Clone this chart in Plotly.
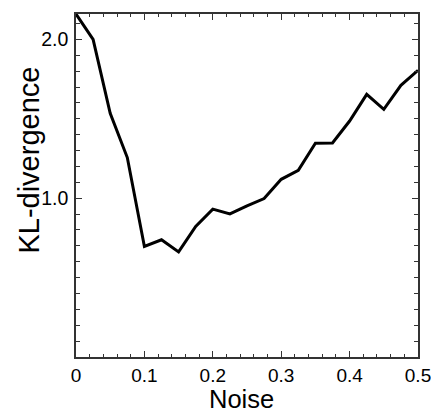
import plotly.graph_objects as go

noise = [0, 0.025, 0.05, 0.075, 0.1, 0.125, 0.15, 0.175, 0.2, 0.225, 0.25,
         0.275, 0.3, 0.325, 0.35, 0.375, 0.4, 0.425, 0.45, 0.475, 0.5]
kl = [2.16, 2.0, 1.535, 1.256, 0.696, 0.738, 0.662, 0.822, 0.931, 0.901, 0.952,
      0.998, 1.119, 1.176, 1.346, 1.348, 1.486, 1.654, 1.56, 1.711, 1.805]

x_ticks = [0, 0.1, 0.2, 0.3, 0.4, 0.5]
x_ticktext = ["0", "0.1", "0.2", "0.3", "0.4", "0.5"]
y_ticks = [1.0, 2.0]
y_ticktext = ["1.0", "2.0"]
x_title = "Noise"
y_title = "KL-divergence"

FONT = "Liberation Sans, Arial, sans-serif"
AX = "#333333"

fig = go.Figure()
fig.add_trace(go.Scatter(x=noise, y=kl, mode="lines",
                         line=dict(color="black", width=3), showlegend=False))

fig.update_layout(
    width=431, height=412,
    margin=dict(l=76, r=13, t=14, b=55),
    paper_bgcolor="white", plot_bgcolor="white",
    font=dict(family=FONT, color="black"),
)
fig.update_xaxes(
    range=[0, 0.5], tickvals=x_ticks, ticktext=x_ticktext,
    ticks="inside", ticklen=6, tickwidth=1.2, tickcolor=AX,
    minor=dict(dtick=0.02, ticks="inside", ticklen=3, tickwidth=1, tickcolor=AX, showgrid=False),
    showline=True, linecolor=AX, linewidth=1.5, mirror="ticks",
    showgrid=False, zeroline=False,
    tickfont=dict(size=19, family=FONT),
    ticklabeloverflow="allow",
    automargin=False,
)
fig.update_yaxes(
    range=[0, 2.16], tickvals=y_ticks, ticktext=y_ticktext,
    ticks="inside", ticklen=6, tickwidth=1.2, tickcolor=AX,
    minor=dict(dtick=0.1, tick0=0, ticks="inside", ticklen=4, tickwidth=1, tickcolor=AX, showgrid=False),
    showline=True, linecolor=AX, linewidth=1.5, mirror="ticks",
    showgrid=False, zeroline=False,
    tickfont=dict(size=19.5, family=FONT),
    ticklabelstandoff=2,
    automargin=False,
)
fig.add_annotation(text=x_title, xref="paper", yref="paper", x=0.484, y=-0.123,
                   xanchor="center", yanchor="middle", showarrow=False,
                   font=dict(size=25.5, family=FONT, color="black"))
fig.add_annotation(text=y_title, xref="paper", yref="paper", x=-0.138, y=0.575,
                   xanchor="center", yanchor="middle", showarrow=False, textangle=-90,
                   font=dict(size=29, family=FONT, color="black"))

fig.write_html("out.html", config={"displayModeBar": False},
               post_script="document.body.style.margin='0';document.body.style.overflow='hidden';")
